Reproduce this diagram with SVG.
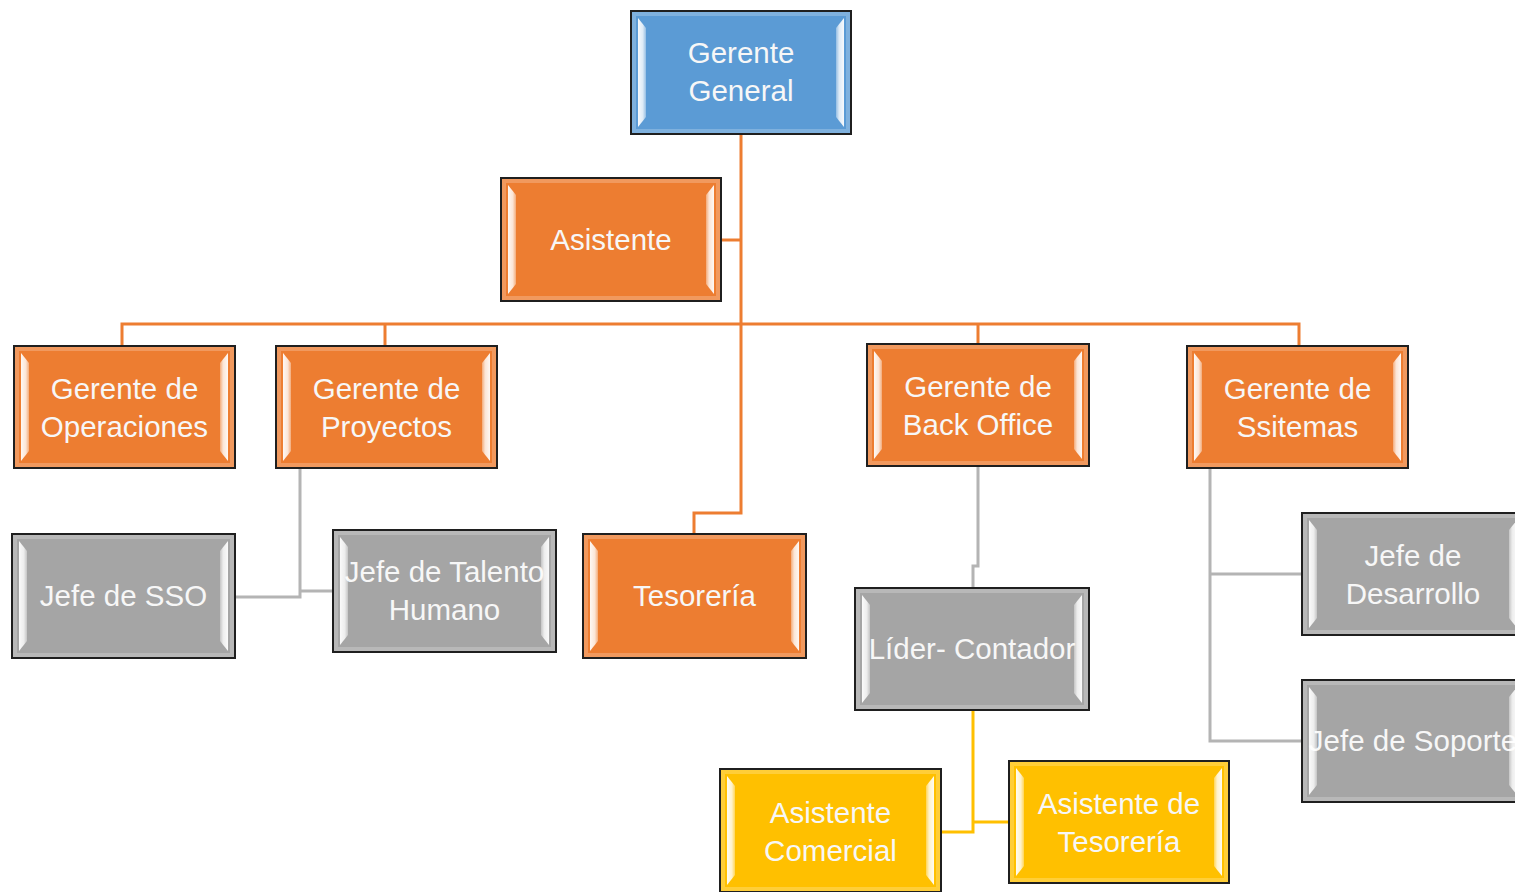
<svg xmlns="http://www.w3.org/2000/svg" width="1515" height="892" viewBox="0 0 1515 892">
  <defs>
    <linearGradient id="barL" x1="0" y1="0" x2="1" y2="0">
      <stop offset="0" stop-color="#ffffff" stop-opacity="0.95"/>
      <stop offset="0.6" stop-color="#ffffff" stop-opacity="0.8"/>
      <stop offset="1" stop-color="#ffffff" stop-opacity="0.35"/>
    </linearGradient>
    <linearGradient id="barR" x1="1" y1="0" x2="0" y2="0">
      <stop offset="0" stop-color="#ffffff" stop-opacity="0.95"/>
      <stop offset="0.6" stop-color="#ffffff" stop-opacity="0.8"/>
      <stop offset="1" stop-color="#ffffff" stop-opacity="0.35"/>
    </linearGradient>
  </defs>
  <style>
    .frame { stroke: #1f1f1f; stroke-width: 2; }
    .rim { fill: none; stroke-width: 4; stroke-opacity: 0.55; }
    .blue .frame { fill: #5b9bd5; }
    .blue .rim { stroke: #9dc3e6; }
    .orange .frame { fill: #ed7d31; }
    .orange .rim { stroke: #f4b183; }
    .gray .frame { fill: #a5a5a5; }
    .gray .rim { stroke: #c9c9c9; }
    .yellow .frame { fill: #ffc000; }
    .yellow .rim { stroke: #ffd966; }
    .barL { fill: url(#barL); }
    .barR { fill: url(#barR); }
    text { font-family: "Liberation Sans", Arial, sans-serif; font-size: 29.5px; fill: #f7f7f7; text-anchor: middle; }
    .link { fill: none; stroke-width: 3; stroke-linejoin: miter; }
    .l-orange { stroke: #ed7d31; }
    .l-gray { stroke: #b4b4b4; }
    .l-yellow { stroke: #ffc000; }
  </style>

  <rect width="1515" height="892" fill="#ffffff"/>

  <!-- reporting lines -->
  <g id="connectors">
    <path class="link l-orange" d="M741,134 V513 H694 V534"/>
    <path class="link l-orange" d="M741,240 H721"/>
    <path class="link l-orange" d="M122,346 V324 H1299 V346"/>
    <path class="link l-orange" d="M385,324 V346"/>
    <path class="link l-orange" d="M978,324 V344"/>
    <path class="link l-gray" d="M300,468 V597 H235"/>
    <path class="link l-gray" d="M300,591 H333"/>
    <path class="link l-gray" d="M978,466 V566 H973 V588"/>
    <path class="link l-gray" d="M1210,468 V741 H1302"/>
    <path class="link l-gray" d="M1210,574 H1302"/>
    <path class="link l-yellow" d="M973,710 V832 H941"/>
    <path class="link l-yellow" d="M973,822 H1009"/>
  </g>

  <g id="gerente-general" class="blue">
    <rect class="frame" x="631" y="11" width="220" height="123"/>
    <rect class="rim" x="634" y="14" width="214" height="117"/>
    <text x="741" y="63">Gerente</text>
    <text x="741" y="101">General</text>
    <path class="barL" d="M638,18 L646,28 V117 L638,127 Z"/>
    <path class="barR" d="M844,18 L836,28 V117 L844,127 Z"/>
  </g>

  <g id="asistente" class="orange">
    <rect class="frame" x="501" y="178" width="220" height="123"/>
    <rect class="rim" x="504" y="181" width="214" height="117"/>
    <text x="611" y="250">Asistente</text>
    <path class="barL" d="M508,185 L516,195 V284 L508,294 Z"/>
    <path class="barR" d="M714,185 L706,195 V284 L714,294 Z"/>
  </g>

  <g id="gerente-operaciones" class="orange">
    <rect class="frame" x="14" y="346" width="221" height="122"/>
    <rect class="rim" x="17" y="349" width="215" height="116"/>
    <text x="124.5" y="399">Gerente de</text>
    <text x="124.5" y="437">Operaciones</text>
    <path class="barL" d="M21,353 L29,363 V451 L21,461 Z"/>
    <path class="barR" d="M228,353 L220,363 V451 L228,461 Z"/>
  </g>

  <g id="gerente-proyectos" class="orange">
    <rect class="frame" x="276" y="346" width="221" height="122"/>
    <rect class="rim" x="279" y="349" width="215" height="116"/>
    <text x="386.5" y="399">Gerente de</text>
    <text x="386.5" y="437">Proyectos</text>
    <path class="barL" d="M283,353 L291,363 V451 L283,461 Z"/>
    <path class="barR" d="M490,353 L482,363 V451 L490,461 Z"/>
  </g>

  <g id="gerente-back-office" class="orange">
    <rect class="frame" x="867" y="344" width="222" height="122"/>
    <rect class="rim" x="870" y="347" width="216" height="116"/>
    <text x="978" y="397">Gerente de</text>
    <text x="978" y="435">Back Office</text>
    <path class="barL" d="M874,351 L882,361 V449 L874,459 Z"/>
    <path class="barR" d="M1082,351 L1074,361 V449 L1082,459 Z"/>
  </g>

  <g id="gerente-sistemas" class="orange">
    <rect class="frame" x="1187" y="346" width="221" height="122"/>
    <rect class="rim" x="1190" y="349" width="215" height="116"/>
    <text x="1297.5" y="399">Gerente de</text>
    <text x="1297.5" y="437">Ssitemas</text>
    <path class="barL" d="M1194,353 L1202,363 V451 L1194,461 Z"/>
    <path class="barR" d="M1401,353 L1393,363 V451 L1401,461 Z"/>
  </g>

  <g id="jefe-sso" class="gray">
    <rect class="frame" x="12" y="534" width="223" height="124"/>
    <rect class="rim" x="15" y="537" width="217" height="118"/>
    <text x="123.5" y="606">Jefe de SSO</text>
    <path class="barL" d="M19,541 L27,551 V641 L19,651 Z"/>
    <path class="barR" d="M228,541 L220,551 V641 L228,651 Z"/>
  </g>

  <g id="jefe-talento-humano" class="gray">
    <rect class="frame" x="333" y="530" width="223" height="122"/>
    <rect class="rim" x="336" y="533" width="217" height="116"/>
    <text x="444.5" y="582">Jefe de Talento</text>
    <text x="444.5" y="620">Humano</text>
    <path class="barL" d="M340,537 L348,547 V635 L340,645 Z"/>
    <path class="barR" d="M549,537 L541,547 V635 L549,645 Z"/>
  </g>

  <g id="tesoreria" class="orange">
    <rect class="frame" x="583" y="534" width="223" height="124"/>
    <rect class="rim" x="586" y="537" width="217" height="118"/>
    <text x="694.5" y="606">Tesorería</text>
    <path class="barL" d="M590,541 L598,551 V641 L590,651 Z"/>
    <path class="barR" d="M799,541 L791,551 V641 L799,651 Z"/>
  </g>

  <g id="lider-contador" class="gray">
    <rect class="frame" x="855" y="588" width="234" height="122"/>
    <rect class="rim" x="858" y="591" width="228" height="116"/>
    <text x="972" y="659">Líder- Contador</text>
    <path class="barL" d="M862,595 L870,605 V693 L862,703 Z"/>
    <path class="barR" d="M1082,595 L1074,605 V693 L1082,703 Z"/>
  </g>

  <g id="jefe-desarrollo" class="gray">
    <rect class="frame" x="1302" y="513" width="222" height="122"/>
    <rect class="rim" x="1305" y="516" width="216" height="116"/>
    <text x="1413" y="566">Jefe de</text>
    <text x="1413" y="604">Desarrollo</text>
    <path class="barL" d="M1309,520 L1317,530 V618 L1309,628 Z"/>
    <path class="barR" d="M1517,520 L1509,530 V618 L1517,628 Z"/>
  </g>

  <g id="jefe-soporte" class="gray">
    <rect class="frame" x="1302" y="680" width="222" height="122"/>
    <rect class="rim" x="1305" y="683" width="216" height="116"/>
    <text x="1413" y="751">Jefe de Soporte</text>
    <path class="barL" d="M1309,687 L1317,697 V785 L1309,795 Z"/>
    <path class="barR" d="M1517,687 L1509,697 V785 L1517,795 Z"/>
  </g>

  <g id="asistente-comercial" class="yellow">
    <rect class="frame" x="720" y="769" width="221" height="123"/>
    <rect class="rim" x="723" y="772" width="215" height="117"/>
    <text x="830.5" y="823">Asistente</text>
    <text x="830.5" y="861">Comercial</text>
    <path class="barL" d="M727,776 L735,786 V875 L727,885 Z"/>
    <path class="barR" d="M934,776 L926,786 V875 L934,885 Z"/>
  </g>

  <g id="asistente-tesoreria" class="yellow">
    <rect class="frame" x="1009" y="761" width="220" height="122"/>
    <rect class="rim" x="1012" y="764" width="214" height="116"/>
    <text x="1119" y="814">Asistente de</text>
    <text x="1119" y="852">Tesorería</text>
    <path class="barL" d="M1016,768 L1024,778 V866 L1016,876 Z"/>
    <path class="barR" d="M1222,768 L1214,778 V866 L1222,876 Z"/>
  </g>
</svg>
